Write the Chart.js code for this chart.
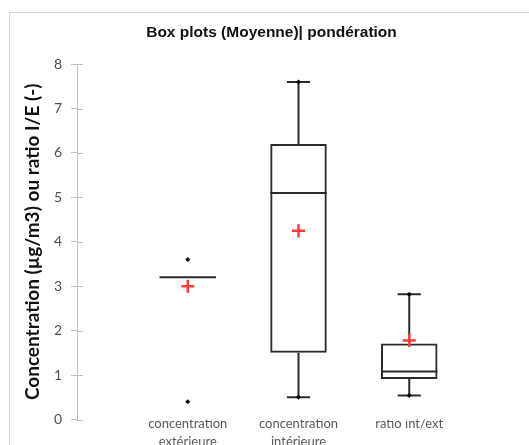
<!DOCTYPE html>
<html>
<head>
<meta charset="utf-8">
<script src="https://cdn.jsdelivr.net/npm/chart.js@4/dist/chart.umd.min.js"></script>
<style>
  html, body { margin: 0; padding: 0; background: #fff; overflow: hidden; }
  #frame { position: absolute; left: 9px; top: 12px; width: 700px; height: 600px;
           border-left: 1px solid #d4d4d4; border-top: 1px solid #d4d4d4; }
  #wrap { position: absolute; left: 0; top: 0; width: 529px; height: 445px; }
</style>
</head>
<body>
<div id="frame"></div>
<div id="wrap"><canvas id="boxChart" width="529" height="445"></canvas></div>
<script>
// Box plot statistics per group
const groupLabels = [['concentration', 'extérieure'], ['concentration', 'intérieure'], 'ratio int/ext'];
const q1Values = [3.2, 1.5, 0.91];
const medianValues = [3.2, 5.1, 1.08];
const q3Values = [3.2, 6.2, 1.71];
const whiskerLow = [3.2, 0.5, 0.54];
const whiskerHigh = [3.2, 7.6, 2.82];
const minValues = [0.4, 0.5, 0.54];
const maxValues = [3.6, 7.6, 2.82];
const meanValues = [3.0, 4.25, 1.78];
const yTicks = [0, 1, 2, 3, 4, 5, 6, 7, 8];

const boxColor = '#2b2b2b';
const axisColor = '#bfbfbf';

// empty slot on each side so the groups sit at 1, 2, 3
const pad = arr => [null, ...arr, null];
const labels = pad(groupLabels).map(l => l === null ? '' : l);

// whiskers, caps, medians and the inner half of the y ticks
const boxPlotLines = {
    id: 'boxPlotLines',
    beforeDatasetsDraw(chart) {
        const { ctx, scales: { x, y }, chartArea } = chart;
        const boxMeta = chart.getDatasetMeta(0);
        ctx.save();

        ctx.strokeStyle = axisColor;
        ctx.lineWidth = 1;
        yTicks.forEach(v => {
            const py = Math.round(y.getPixelForValue(v)) + 0.5;
            ctx.beginPath();
            ctx.moveTo(chartArea.left, py);
            ctx.lineTo(chartArea.left + 6, py);
            ctx.stroke();
        });

        ctx.strokeStyle = boxColor;
        ctx.lineWidth = 2;
        groupLabels.forEach((_, i) => {
            const bar = boxMeta.data[i + 1];
            const cx = x.getPixelForValue(i + 1);
            const half = bar.width / 2;
            const capHalf = bar.width * 0.205;

            // median
            const my = y.getPixelForValue(medianValues[i]);
            ctx.beginPath();
            ctx.moveTo(cx - half, my);
            ctx.lineTo(cx + half, my);
            ctx.stroke();

            // upper whisker
            if (whiskerHigh[i] > q3Values[i]) {
                const top = y.getPixelForValue(whiskerHigh[i]);
                ctx.beginPath();
                ctx.moveTo(cx, y.getPixelForValue(q3Values[i]));
                ctx.lineTo(cx, top);
                ctx.moveTo(cx - capHalf, top);
                ctx.lineTo(cx + capHalf, top);
                ctx.stroke();
            }
            // lower whisker
            if (whiskerLow[i] < q1Values[i]) {
                const bottom = y.getPixelForValue(whiskerLow[i]);
                ctx.beginPath();
                ctx.moveTo(cx, y.getPixelForValue(q1Values[i]));
                ctx.lineTo(cx, bottom);
                ctx.moveTo(cx - capHalf, bottom);
                ctx.lineTo(cx + capHalf, bottom);
                ctx.stroke();
            }
        });
        ctx.restore();
    }
};

const ctx = document.getElementById('boxChart').getContext('2d');
const boxChart = new Chart(ctx, {
    type: 'bar',
    data: {
        labels: labels,
        datasets: [{
            label: 'Boîte',
            data: pad(groupLabels.map((_, i) => [q1Values[i], q3Values[i]])),
            backgroundColor: 'rgba(0,0,0,0)',
            borderColor: boxColor,
            borderWidth: 2,
            borderSkipped: false,
            categoryPercentage: 1,
            barPercentage: 0.51,
            order: 3
        }, {
            type: 'line',
            label: 'Minimum',
            data: pad(minValues),
            showLine: false,
            pointStyle: 'rectRot',
            pointRadius: 2.5,
            backgroundColor: '#000',
            borderColor: '#000',
            borderWidth: 0,
            order: 2
        }, {
            type: 'line',
            label: 'Maximum',
            data: pad(maxValues),
            showLine: false,
            pointStyle: 'rectRot',
            pointRadius: 2.5,
            backgroundColor: '#000',
            borderColor: '#000',
            borderWidth: 0,
            order: 2
        }, {
            type: 'line',
            label: 'Moyenne',
            data: pad(meanValues),
            showLine: false,
            pointStyle: 'cross',
            pointRadius: 6.5,
            borderColor: '#ff3b3b',
            borderWidth: 2.5,
            order: 1
        }]
    },
    options: {
        responsive: false,
        animation: false,
        events: [],
        layout: {
            padding: { left: 22, right: 8, top: 0, bottom: 0 }
        },
        scales: {
            x: {
                offset: false,
                grid: { display: false, drawTicks: false },
                border: { display: false },
                ticks: {
                    padding: -4,
                    color: '#595959',
                    maxRotation: 0,
                    autoSkip: false,
                    font: { family: 'Lato', size: 13, lineHeight: 1.35 }
                },
                afterFit: scale => { scale.height = 25.5; }
            },
            y: {
                min: 0,
                max: 8,
                afterBuildTicks: scale => { scale.ticks = yTicks.map(v => ({ value: v })); },
                grid: {
                    drawOnChartArea: false,
                    drawTicks: true,
                    tickLength: 6,
                    color: axisColor
                },
                border: { color: axisColor },
                ticks: {
                    padding: 9,
                    autoSkip: false,
                    color: '#505050',
                    font: { family: 'Lato', size: 14 }
                },
                title: {
                    display: true,
                    text: 'Concentration (µg/m3) ou ratio I/E (-)',
                    color: '#111',
                    padding: { top: 0, bottom: 0 },
                    font: { family: 'Lato', size: 19, weight: 'bold', lineHeight: 1.1 }
                },
                afterFit: scale => { scale.width = 55; }
            }
        },
        plugins: {
            legend: { display: false },
            tooltip: { enabled: false },
            title: {
                display: true,
                text: 'Box plots (Moyenne)| pondération',
                color: '#111',
                padding: { top: 24, bottom: 22.3 },
                font: { family: 'Liberation Sans', size: 15.5, weight: 'bold', lineHeight: 1.15 }
            }
        }
    },
    plugins: [boxPlotLines]
});
</script>
</body>
</html>
